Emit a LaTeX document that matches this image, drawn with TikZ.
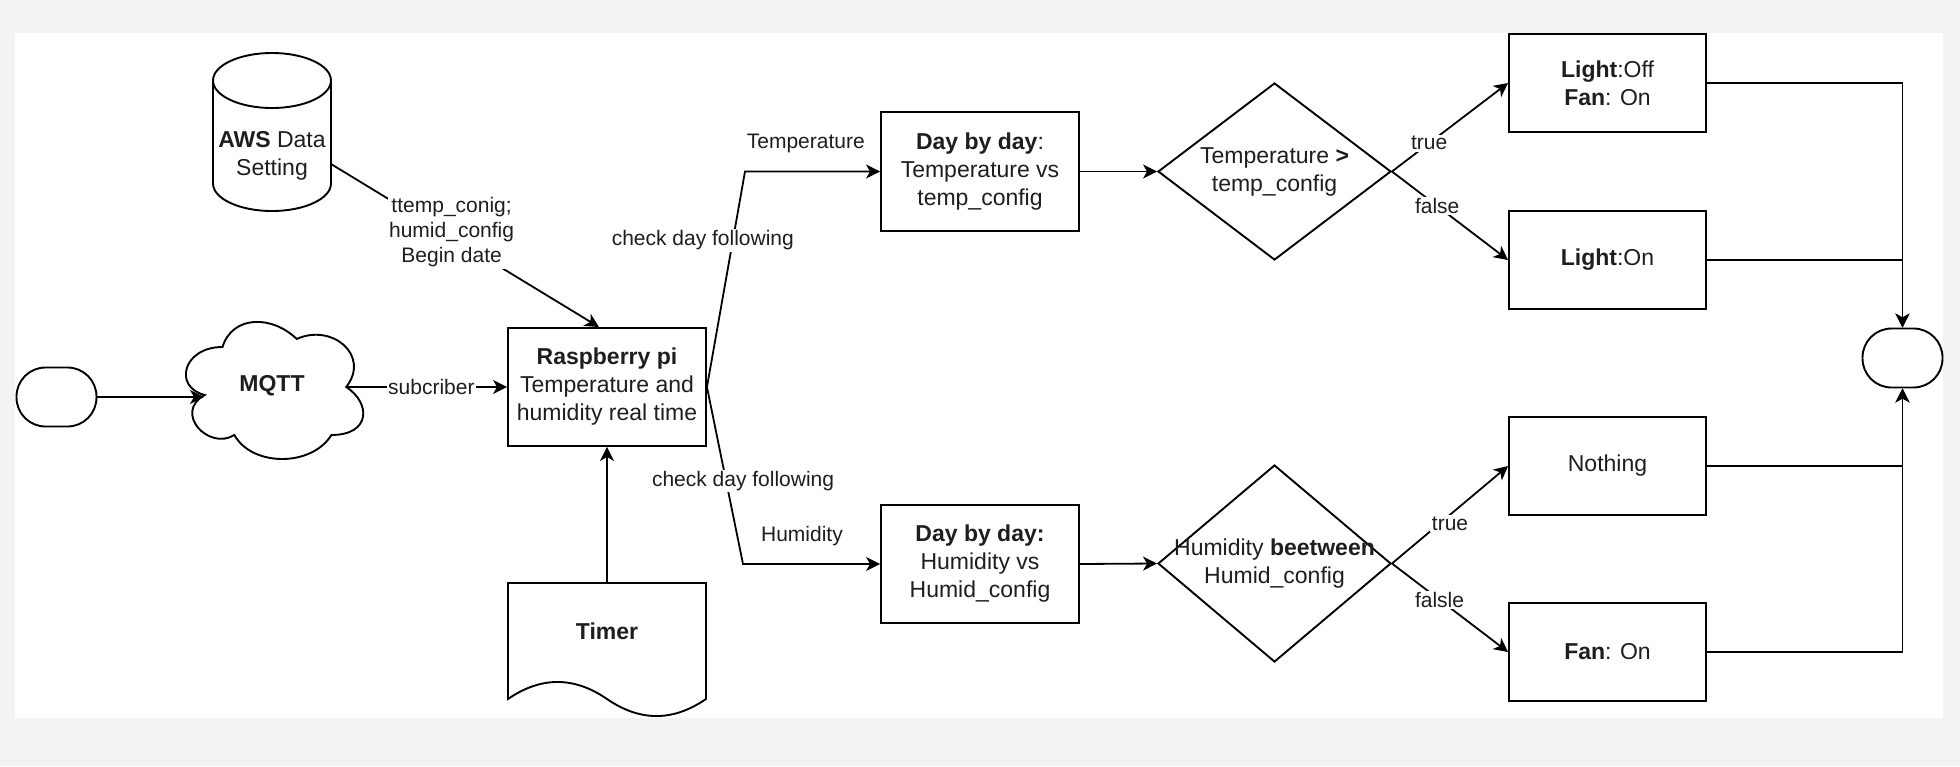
\documentclass[tikz,border=0pt]{standalone}
\usepackage{fontspec}
\setmainfont{Liberation Sans}
\usetikzlibrary{arrows.meta,shapes.geometric}
\definecolor{bggray}{RGB}{241,243,244}
\definecolor{ink}{RGB}{30,30,30}
\begin{document}
\begin{tikzpicture}[x=1pt,y=-1pt,
  txt/.style={font=\fontsize{23}{28}\selectfont, text=ink, align=center, inner sep=0pt},
  lbl/.style={font=\fontsize{21}{25}\selectfont, text=ink, align=center, fill=white, inner sep=1.5pt},
  box/.style={draw, rectangle, line width=1.9pt, minimum width=198pt, minimum height=118pt, inner sep=0pt, txt},
  outbox/.style={box, minimum width=197pt, minimum height=98pt},
  term/.style={draw, rectangle, line width=1.9pt, rounded corners=29pt, minimum width=80pt, minimum height=59pt, inner sep=0pt},
  diam/.style={draw, diamond, line width=1.9pt, inner sep=0pt},
  shp/.style={line width=1.9pt},
  ln/.style={line width=1.8pt},
  arr/.style={ln, -{Stealth[length=14pt,width=14pt,inset=4pt]}},
]
\fill[bggray] (0,0) rectangle (1960,766);
\fill[white] (15,33) rectangle (1943,718);
\useasboundingbox (0,0) rectangle (1960,766);

% terminators
\node[term] (start) at (56.5,397) {};
\node[term] (end) at (1902.5,358) {};

% cloud (MQTT)
\begin{scope}[shift={(173,307)}, x=198pt, y=-160pt]
  \draw[shp] (0.25,0.25) .. controls (0.05,0.25) and (0,0.5) .. (0.16,0.55)
    .. controls (0,0.66) and (0.18,0.9) .. (0.31,0.8)
    .. controls (0.4,1) and (0.7,1) .. (0.8,0.8)
    .. controls (1,0.8) and (1,0.6) .. (0.875,0.5)
    .. controls (1,0.3) and (0.8,0.1) .. (0.625,0.2)
    .. controls (0.5,0.05) and (0.3,0.05) .. (0.25,0.25) -- cycle;
\end{scope}
\node[txt] (mqtt) at (272,386) {\textbf{MQTT}};
\coordinate (mqttIn) at (204,397);
\coordinate (mqttOut) at (346,387);

% AWS cylinder
\draw[shp] (272,80.5) ellipse [x radius=59pt, y radius=27.5pt];
\draw[shp] (213,80.5) -- (213,183.5)
  .. controls (213,198.7) and (239.4,211) .. (272,211)
  .. controls (304.6,211) and (331,198.7) .. (331,183.5) -- (331,80.5);
\node[txt] (aws) at (272,156) {\textbf{AWS} Data\\Setting};
\coordinate (awsOut) at (331,164);

% Raspberry pi
\node[box] (rasp) at (607,387) {\textbf{Raspberry pi}\\Temperature and\\humidity real time};

% Timer (document shape)
\draw[shp] (508,583) -- (706,583) -- (706,699)
  .. controls (673,721.7) and (640,721.7) .. (607,699)
  .. controls (574,676.3) and (541,676.3) .. (508,699) -- cycle;
\node[txt] (timer) at (607,631) {\textbf{Timer}};
\coordinate (timerTop) at (607,583);

% day by day boxes
\node[box, minimum height=119pt] (day1) at (980,171.5) {\textbf{Day by day}:\\Temperature vs\\temp\_config};
\node[box] (day2) at (980,564) {\textbf{Day by day:}\\Humidity vs\\Humid\_config};

% decisions
\node[diam, minimum width=233pt, minimum height=177pt] (dia1) at (1274.5,171.5) {};
\node[txt] at (dia1) {Temperature \textbf{>}\\temp\_config};
\node[diam, minimum width=233pt, minimum height=197pt] (dia2) at (1274.5,563.5) {};
\node[txt] at (dia2) {Humidity \textbf{beetween}\\Humid\_config};

% outcomes
\node[outbox] (out1) at (1607.5,83) {\textbf{Light}:Off\\\textbf{Fan}: On};
\node[outbox] (out2) at (1607.5,260) {\textbf{Light}:On};
\node[outbox] (out3) at (1607.5,466) {Nothing};
\node[outbox] (out4) at (1607.5,652) {\textbf{Fan}: On};

% corners of the branch lines
\coordinate (c1) at (745,171.5);
\coordinate (c2) at (743,564);

% connectors
\draw[arr] (start.east |- mqttIn) -- (mqttIn);
\draw[arr] (mqttOut) -- node[lbl, pos=0.53]{subcriber} (rasp.west |- mqttOut);
\draw[arr] (awsOut) -- node[lbl, pos=0.45, yshift=5pt]{ttemp\_conig;\\humid\_config\\Begin date} ([xshift=-8pt]rasp.north);
\draw[arr] (timerTop) -- (rasp.south);

\draw[arr] (rasp.east) -- node[lbl, pos=0.68, xshift=-30pt]{check day following} (c1)
  -- node[lbl, fill=none, pos=0.45, yshift=28pt]{Temperature} (day1.west);
\draw[arr] (rasp.east) -- node[lbl, pos=0.53, xshift=17pt]{check day following} (c2)
  -- node[lbl, fill=none, pos=0.43, yshift=28pt]{Humidity} (day2.west);

\draw[arr] (day1.east) -- (dia1.west);
\draw[arr] (day2.east) -- (dia2.west);

\draw[arr] (dia1.east) -- node[lbl, pos=0.32]{true} (out1.west);
\draw[arr] (dia1.east) -- node[lbl, pos=0.39]{false} (out2.west);
\draw[arr] (dia2.east) -- node[lbl, pos=0.5, yshift=-9pt]{true} (out3.west);
\draw[arr] (dia2.east) -- node[lbl, pos=0.41]{falsle} (out4.west);

\draw[arr] (out1.east) -| (end.north);
\draw[arr] (out2.east) -| (end.north);
\draw[arr] (out3.east) -| (end.south);
\draw[arr] (out4.east) -| (end.south);
\end{tikzpicture}
\end{document}
